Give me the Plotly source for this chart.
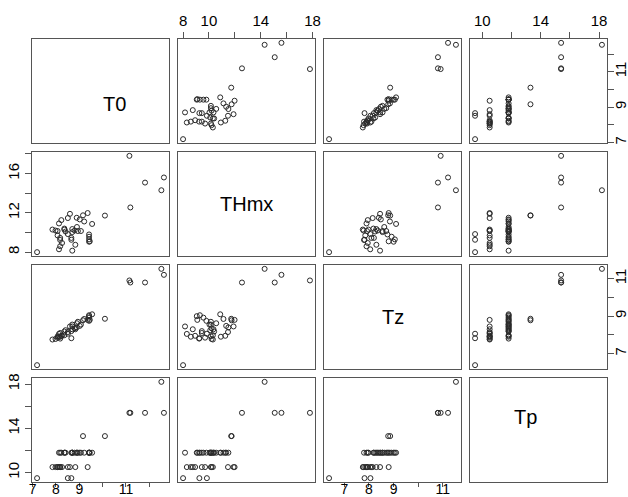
import plotly.graph_objects as go

T0 = [7.19, 8.51, 8.66,
      9.36, 8.60, 8.51, 8.13, 8.18, 8.26, 8.83, 8.18, 8.07, 8.07, 7.98, 7.85,
      9.42, 9.45, 9.42, 9.42, 9.42, 9.55, 8.70, 8.66, 9.07, 8.94, 8.80, 8.70,
      8.70, 8.90, 8.41, 8.36, 8.36, 9.21, 9.02, 8.89, 8.23, 8.13, 8.18,
      9.16, 10.10,
      12.63, 11.82, 11.19, 11.15,
      12.52]
THmx = [8.00, 9.84, 9.26,
        11.98, 11.90, 11.47, 8.29, 8.60, 8.93, 8.75, 9.45, 9.70, 10.15, 10.20, 10.30,
        9.06, 9.10, 9.30, 9.57, 9.80, 10.87, 8.15, 9.45, 10.15, 10.15, 10.20, 10.04,
        10.35, 10.56, 10.10, 10.30, 10.40, 11.12, 11.33, 11.50, 11.26, 10.92, 9.24,
        11.75, 11.72,
        15.60, 15.08, 12.55, 17.80,
        14.30]
Tz = [6.38, 8.06, 7.82,
      8.80, 8.45, 8.15, 8.05, 7.90, 7.95, 8.30, 8.10, 7.85, 7.92, 7.78, 7.75,
      9.00, 8.80, 9.05, 8.92, 8.75, 9.10, 8.45, 8.20, 8.55, 8.70, 8.35, 8.55,
      8.30, 8.62, 8.25, 7.98, 8.18, 8.85, 8.48, 8.40, 7.95, 7.90, 7.80,
      8.78, 8.86,
      11.21, 10.80, 10.80, 10.91,
      11.53]
Tp = [9.5, 9.5, 9.5,
      10.5, 10.5, 10.5, 10.5, 10.5, 10.5, 10.5, 10.5, 10.5, 10.5, 10.5, 10.5,
      11.8, 11.8, 11.8, 11.8, 11.8, 11.8, 11.8, 11.8, 11.8, 11.8, 11.8, 11.8,
      11.8, 11.8, 11.8, 11.8, 11.8, 11.8, 11.8, 11.8, 11.8, 11.8, 11.8,
      13.3, 13.3,
      15.4, 15.4, 15.4, 15.4,
      18.2]

names = ["T0", "THmx", "Tz", "Tp"]
data = [T0, THmx, Tz, Tp]

# tick values / labels per variable and side
ticks_bottom = {0: ([7, 8, 9, 10, 11, 12], ["7", "8", "9", "", "11", ""]),
                2: ([7, 8, 9, 10, 11], ["7", "8", "9", "", "11"])}
ticks_top = {1: ([8, 10, 12, 14, 16, 18], ["8", "10", "", "14", "", "18"]),
             3: ([10, 12, 14, 16, 18], ["10", "", "14", "", "18"])}
ticks_right = {0: ([7, 8, 9, 10, 11, 12], ["7", "", "9", "", "11", ""]),
               2: ([7, 8, 9, 10, 11], ["7", "", "9", "", "11"])}
ticks_left = {1: ([8, 10, 12, 14, 16, 18], ["8", "", "12", "", "16", ""]),
              3: ([10, 12, 14, 16, 18], ["10", "", "14", "", "18"])}

W, H = 628, 497
col_px = [(32, 169), (178, 315), (324, 461), (470, 607)]
row_px = [(39, 143), (152, 256), (265, 369), (378, 482)]


def rng(v):
    lo, hi = min(v), max(v)
    d = hi - lo
    return [lo - 0.04 * d, hi + 0.04 * d]


FONT = "Liberation Sans, Arial, sans-serif"
LINE = "#555555"

fig = go.Figure()
layout = {}
annotations = []
for i in range(4):
    for j in range(4):
        k = i * 4 + j + 1
        xa = "xaxis" if k == 1 else f"xaxis{k}"
        ya = "yaxis" if k == 1 else f"yaxis{k}"
        xr = "x" if k == 1 else f"x{k}"
        yr = "y" if k == 1 else f"y{k}"
        x0, x1 = col_px[j]
        y0, y1 = row_px[i]
        xax = dict(domain=[x0 / W, x1 / W], range=rng(data[j]), anchor=yr,
                   showgrid=False, zeroline=False, showline=True, mirror=True,
                   linecolor=LINE, linewidth=1, showticklabels=False, ticks="",
                   fixedrange=True, automargin=False)
        yax = dict(domain=[1 - y1 / H, 1 - y0 / H], range=rng(data[i]), anchor=xr,
                   showgrid=False, zeroline=False, showline=True, mirror=True,
                   linecolor=LINE, linewidth=1, showticklabels=False, ticks="",
                   fixedrange=True, automargin=False)
        tf = dict(family=FONT, size=15, color="black")
        if i == 3 and j in ticks_bottom:
            tv, tt = ticks_bottom[j]
            xax.update(side="bottom", tickvals=tv, ticktext=tt, ticks="outside",
                       ticklen=4, tickcolor=LINE, showticklabels=True,
                       tickfont=dict(family=FONT, size=14, color="black"),
                       ticklabelstandoff=-10)
        if i == 0 and j in ticks_top:
            tv, tt = ticks_top[j]
            xax.update(side="top", tickvals=tv, ticktext=tt, ticks="outside",
                       ticklen=6, tickcolor=LINE, showticklabels=True, tickfont=tf)
        if j == 0 and i in ticks_left:
            tv, tt = ticks_left[i]
            yax.update(side="left", tickvals=tv, ticktext=tt, ticks="outside",
                       ticklen=6, tickcolor=LINE, showticklabels=True, tickfont=tf,
                       tickangle=-90)
        if j == 3 and i in ticks_right:
            tv, tt = ticks_right[i]
            yax.update(side="right", tickvals=tv, ticktext=tt, ticks="outside",
                       ticklen=6, tickcolor=LINE, showticklabels=True, tickfont=tf,
                       tickangle=-90, ticklabelstandoff=-6)
        layout[xa] = xax
        layout[ya] = yax
        if i == j:
            annotations.append(dict(x=0.5 * (x0 + x1) / W, y=1 - 0.5 * (y0 + y1) / H,
                                    xref="paper", yref="paper", text=names[i],
                                    showarrow=False,
                                    font=dict(family=FONT, size=20, color="black")))
            fig.add_trace(go.Scatter(x=[], y=[], xaxis=xr, yaxis=yr,
                                     showlegend=False))
        else:
            fig.add_trace(go.Scatter(
                x=data[j], y=data[i], mode="markers", xaxis=xr, yaxis=yr,
                showlegend=False, hoverinfo="skip",
                marker=dict(symbol="circle-open", size=5, color="#2a2a2a",
                            line=dict(width=1, color="#2a2a2a"))))

fig.update_layout(**layout)
fig.update_layout(width=W, height=H, margin=dict(l=0, r=0, t=0, b=0, autoexpand=False),
                  paper_bgcolor="white", plot_bgcolor="white",
                  annotations=annotations, showlegend=False)
fig.write_html("out.html", config={"displayModeBar": False},
               post_script="document.body.style.margin='0';document.body.style.overflow='hidden';")
